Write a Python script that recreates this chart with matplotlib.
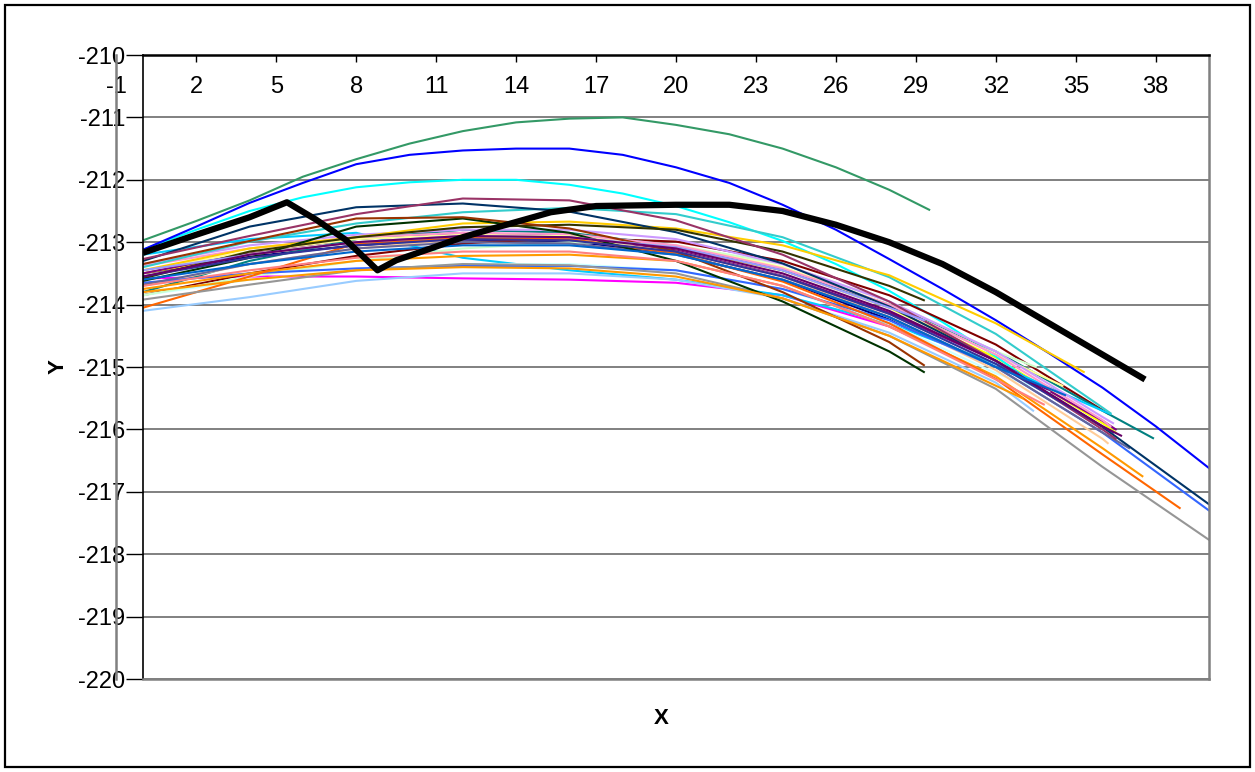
import matplotlib
matplotlib.use("Agg")
import matplotlib.pyplot as plt
import matplotlib.transforms as mtransforms
from matplotlib.patches import Rectangle

plt.rcParams['font.family'] = ['Liberation Sans', 'DejaVu Sans']

# ---------------- data ----------------
x_grid = [0, 4, 8, 12, 16, 20, 24, 28, 32, 36, 40]
x_grid2 = [0, 2, 4, 6, 8, 10, 12, 14, 16, 18, 20, 22, 24, 26, 28, 30, 32, 34, 36, 38, 40]
x_tick_values = [-1, 2, 5, 8, 11, 14, 17, 20, 23, 26, 29, 32, 35, 38]
y_tick_values = [-220, -219, -218, -217, -216, -215, -214, -213, -212, -211, -210]

# top three curves, read every 2 units
s_seagreen = [-212.97, -212.66, -212.33, -211.95, -211.67, -211.42, -211.22, -211.08,
              -211.02, -211.0, -211.12, -211.27, -211.5, -211.8, -212.16]
s_seagreen_end = (29.5, -212.48)
s_blue = [-213.12, -212.75, -212.37, -212.05, -211.75, -211.6, -211.53, -211.5, -211.5,
          -211.6, -211.8, -212.05, -212.4, -212.8, -213.27, -213.75, -214.25, -214.78,
          -215.33, -215.95, -216.62]
s_blue_end = None
s_cyan = [-213.12, -212.8, -212.5, -212.28, -212.12, -212.04, -212.0, -212.0, -212.08,
          -212.22, -212.42, -212.68, -212.98, -213.35, -213.78, -214.28, -214.83]
s_cyan_end = (34.3, -215.53)

# remaining curves, read every 4 units
s_plum = [-213.27, -212.9, -212.55, -212.3, -212.33, -212.65, -213.2, -213.95, -214.9, -216.0]
s_plum_end = (36.5, -216.15)
s_darkteal = [-213.3, -212.75, -212.44, -212.38, -212.51, -212.84, -213.34, -214.03, -214.9, -215.96, -217.2]
s_darkteal_end = None
s_lightblue = [-213.65, -213.5, -213.42, -213.38, -213.38, -213.45, -213.75, -214.25, -215.0, -216.05, -217.3]
s_lightblue_end = None
s_gray = [-213.92, -213.68, -213.45, -213.35, -213.37, -213.5, -213.9, -214.5, -215.35, -216.6, -217.77]
s_gray_end = None
s_orange = [-214.05, -213.55, -213.02, -212.93, -212.95, -213.18, -213.63, -214.3, -215.19, -216.4]
s_orange_end = (38.9, -217.26)
s_lightorange = [-213.75, -213.5, -213.3, -213.22, -213.2, -213.3, -213.7, -214.35, -215.15, -216.3]
s_lightorange_end = (37.5, -216.75)
s_tan = [-213.7, -213.35, -213.1, -212.95, -212.95, -213.15, -213.55, -214.2, -215.05, -216.15]
s_tan_end = (36.2, -216.22)
s_teal = [-213.8, -213.3, -212.95, -212.8, -212.85, -213.06, -213.45, -214.0, -214.75, -215.7]
s_teal_end = (37.9, -216.14)
s_purple = [-213.5, -213.16, -212.95, -212.85, -212.9, -213.13, -213.54, -214.13, -214.9, -215.86]
s_purple_end = (36.5, -216.0)
s_darkred = [-213.85, -213.5, -213.22, -213.02, -212.93, -212.99, -213.3, -213.85, -214.64, -215.69]
s_darkred_end = (36.2, -215.74)
s_gold = [-213.45, -213.1, -212.92, -212.7, -212.67, -212.78, -213.05, -213.53, -214.3]
s_gold_end = (35.3, -215.08)
s_olive = [-213.58, -213.15, -212.92, -212.76, -212.72, -212.8, -213.15, -213.7]
s_olive_end = (29.3, -213.93)
s_magenta = [-213.58, -213.55, -213.55, -213.58, -213.6, -213.65, -213.85, -214.35]
s_magenta_end = (29.3, -214.6)
s_brown = [-213.35, -212.98, -212.62, -212.6, -212.78, -213.15, -213.8, -214.6]
s_brown_end = (29.3, -214.97)
s_darkgreen = [-213.62, -213.25, -212.75, -212.62, -212.85, -213.3, -213.95, -214.75]
s_darkgreen_end = (29.3, -215.08)
s_navy = [-213.5, -213.23, -213.05, -212.96, -212.98, -213.19, -213.61, -214.24]
s_navy_end = (29.3, -214.5)
s_skyblue = [-213.2, -212.95, -212.85, -213.25, -213.45, -213.6, -213.85, -214.3, -214.95, -215.7]
s_skyblue_end = (36.3, -215.75)
s_lavender = [-213.35, -213.05, -212.88, -212.8, -212.8, -212.95, -213.35, -213.95, -214.75, -215.8]
s_lavender_end = (36.4, -215.9)
s_rose = [-213.38, -213.1, -212.92, -212.85, -212.87, -213.05, -213.42, -214.0, -214.8, -215.85]
s_rose_end = (36.3, -215.95)
s_aqua = [-213.4, -212.99, -212.7, -212.52, -212.45, -212.55, -212.92, -213.56, -214.47, -215.65]
s_aqua_end = (36.3, -215.74)
s_indigo = [-213.55, -213.25, -213.05, -212.95, -212.97, -213.15, -213.55, -214.15, -214.95, -215.95]
s_indigo_end = (36.4, -216.05)
s_lightgreen = [-213.85, -213.55, -213.3, -213.1, -213.0, -213.05, -213.35, -213.95, -214.75]
s_lightgreen_end = (33.5, -215.0)
s_paleblue = [-214.1, -213.88, -213.62, -213.5, -213.5, -213.6, -213.9, -214.45, -215.25]
s_paleblue_end = (33.4, -215.7)
s_lightturq = [-213.85, -213.6, -213.45, -213.35, -213.35, -213.45, -213.75, -214.3, -215.1]
s_lightturq_end = (34.0, -215.4)
s_lightyellow = [-213.45, -213.15, -212.95, -212.88, -212.9, -213.05, -213.4, -214.0, -214.8]
s_lightyellow_end = (34.5, -215.3)
s_yellow = [-213.5, -213.2, -213.0, -212.92, -212.93, -213.1, -213.45, -214.05, -214.85, -215.9]
s_yellow_end = (36.5, -216.05)
s_bluegray = [-213.68, -213.35, -213.1, -213.0, -213.02, -213.2, -213.6, -214.2, -215.0, -216.05]
s_bluegray_end = (37.0, -216.3)
s_darkpurple = [-213.55, -213.2, -213.0, -212.9, -212.92, -213.1, -213.5, -214.1, -214.9, -215.95]
s_darkpurple_end = (36.7, -216.1)
s_periwinkle = [-213.45, -213.2, -213.0, -212.9, -212.92, -213.08, -213.45, -214.05]
s_periwinkle_end = (29.3, -214.25)
s_coral = [-213.7, -213.45, -213.25, -213.15, -213.15, -213.3, -213.7, -214.35, -215.2]
s_coral_end = (33.8, -215.6)
s_midblue = [-213.6, -213.35, -213.15, -213.05, -213.05, -213.2, -213.6, -214.2, -215.0]
s_midblue_end = (34.6, -215.45)
s_orange2 = [-213.8, -213.6, -213.45, -213.4, -213.42, -213.55, -213.9, -214.5, -215.3]
s_orange2_end = (33.0, -215.5)

black_x = [0, 2, 4, 5.4, 6.5, 7.6, 8.8, 9.5, 10.8, 12, 13.3, 15.3, 17, 20, 22, 24,
           26, 28, 30, 32, 34, 36, 37.6]
black_y = [-213.17, -212.88, -212.6, -212.36, -212.64, -212.96, -213.45, -213.29,
           -213.1, -212.92, -212.76, -212.52, -212.42, -212.4, -212.4, -212.5,
           -212.72, -213.0, -213.35, -213.8, -214.3, -214.8, -215.2]

# ---------------- styles ----------------
series = [
    (x_grid, s_navy, s_navy_end, '#000080'),
    (x_grid, s_magenta, s_magenta_end, '#FF00FF'),
    (x_grid, s_yellow, s_yellow_end, '#FFFF00'),
    (x_grid2, s_cyan, s_cyan_end, '#00FFFF'),
    (x_grid, s_purple, s_purple_end, '#800080'),
    (x_grid, s_darkred, s_darkred_end, '#800000'),
    (x_grid, s_teal, s_teal_end, '#008080'),
    (x_grid2, s_blue, s_blue_end, '#0000FF'),
    (x_grid, s_skyblue, s_skyblue_end, '#00CCFF'),
    (x_grid, s_lightturq, s_lightturq_end, '#CCFFFF'),
    (x_grid, s_lightgreen, s_lightgreen_end, '#CCFFCC'),
    (x_grid, s_lightyellow, s_lightyellow_end, '#FFFF99'),
    (x_grid, s_paleblue, s_paleblue_end, '#99CCFF'),
    (x_grid, s_rose, s_rose_end, '#FF99CC'),
    (x_grid, s_lavender, s_lavender_end, '#CC99FF'),
    (x_grid, s_tan, s_tan_end, '#FFCC99'),
    (x_grid, s_lightblue, s_lightblue_end, '#3366FF'),
    (x_grid, s_aqua, s_aqua_end, '#33CCCC'),
    (x_grid, s_gold, s_gold_end, '#FFCC00'),
    (x_grid, s_lightorange, s_lightorange_end, '#FF9900'),
    (x_grid, s_orange, s_orange_end, '#FF6600'),
    (x_grid, s_bluegray, s_bluegray_end, '#666699'),
    (x_grid, s_gray, s_gray_end, '#969696'),
    (x_grid, s_darkteal, s_darkteal_end, '#003366'),
    (x_grid2, s_seagreen, s_seagreen_end, '#339966'),
    (x_grid, s_darkgreen, s_darkgreen_end, '#003300'),
    (x_grid, s_olive, s_olive_end, '#333300'),
    (x_grid, s_brown, s_brown_end, '#993300'),
    (x_grid, s_plum, s_plum_end, '#993366'),
    (x_grid, s_indigo, s_indigo_end, '#333399'),
    (x_grid, s_periwinkle, s_periwinkle_end, '#9999FF'),
    (x_grid, s_darkpurple, s_darkpurple_end, '#660066'),
    (x_grid, s_coral, s_coral_end, '#FF8080'),
    (x_grid, s_midblue, s_midblue_end, '#0066CC'),
    (x_grid, s_orange2, s_orange2_end, '#FF9900'),
]

W, H = 1255, 772
fig = plt.figure(figsize=(W / 100, H / 100), dpi=100)
fig.patches.append(Rectangle((5 / W, 5 / H), 1245 / W, 762 / H, transform=fig.transFigure,
                             fill=False, edgecolor='black', linewidth=1.6))

ax = fig.add_axes([143 / W, 1 - 679 / H, (1209 - 143) / W, (679 - 55) / H])

for xg, vals, end, color in series:
    xs = list(xg[:len(vals)])
    ys = list(vals)
    if end is not None:
        xs.append(end[0])
        ys.append(end[1])
    ax.plot(xs, ys, color=color, lw=1.5, solid_joinstyle='round', zorder=2)

ax.plot(black_x, black_y, color='black', lw=4.5, solid_joinstyle='round',
        solid_capstyle='butt', zorder=4)

ax.set_xlim(0, 40)
ax.set_ylim(-220, -210)

ax.set_yticks(y_tick_values)
ax.set_yticklabels([str(v) for v in y_tick_values])
ax.tick_params(axis='y', direction='out', length=12.5, width=1, pad=0.5,
               labelsize=17, colors='black')
ax.yaxis.grid(True, color='#808080', lw=1.4, zorder=1)
ax.set_axisbelow(True)

ax.xaxis.set_ticks_position('top')
ax.set_xticks([v for v in x_tick_values if v >= 0])
ax.tick_params(axis='x', direction='in', length=5, width=1,
               labeltop=False, labelbottom=False)

trans = mtransforms.blended_transform_factory(ax.transData, ax.transAxes)
for v in x_tick_values:
    ax.text(v, 1 - 32 / 624, str(v), transform=trans, ha='center', va='center',
            fontsize=17, clip_on=False)

ax.plot([-1, -1], [-220, -210], color='#808080', lw=1.8, clip_on=False, zorder=5)

for side, col, lw in [('left', 'black', 1.2), ('top', 'black', 1.8),
                      ('right', '#808080', 1.8), ('bottom', '#808080', 1.8)]:
    ax.spines[side].set_color(col)
    ax.spines[side].set_linewidth(lw)

fig.text(58 / W, 1 - 367 / H, 'Y', rotation=90, fontweight='bold', fontsize=16,
         ha='center', va='center')
fig.text(661 / W, 1 - 718 / H, 'X', fontweight='bold', fontsize=16,
         ha='center', va='center')

fig.savefig('out.png', dpi=100)
